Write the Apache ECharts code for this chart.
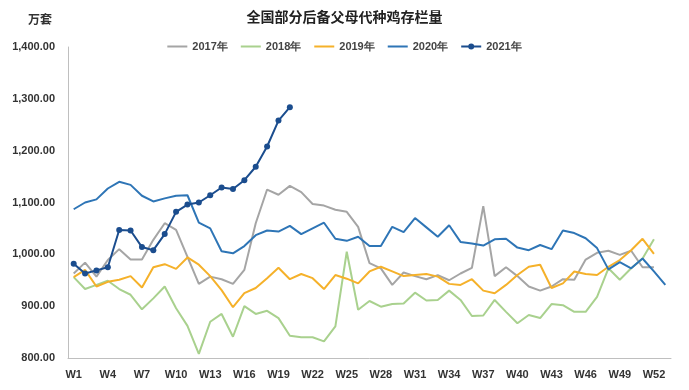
<!DOCTYPE html>
<html><head><meta charset="utf-8">
<script src="https://cdn.jsdelivr.net/npm/echarts@6/dist/echarts.min.js"></script>
<style>html,body{margin:0;padding:0;background:#fff}#c{width:689px;height:390px}</style>
</head><body><div id="c"></div>
<script>
var weeks = [];
for (var w = 1; w <= 53; w++) weeks.push('W' + w);
var s2017 = [963,984,957,989,1010,990,990,1028,1060,1047,995,943,957,952,943,970,1060,1125,1115,1132,1120,1097,1094,1086,1082,1053,983,973,941,965,958,952,960,950,963,974,1093,958,975,958,938,930,938,952,951,990,1003,1007,999,1007,975,975];
var s2018 = [956,933,941,949,933,922,894,915,938,896,862,808,870,885,841,900,885,891,877,843,840,840,832,861,1005,893,910,899,904,905,926,911,912,930,912,881,882,912,889,867,883,877,904,902,889,889,918,973,951,973,992,1029];
var s2019 = [956,970,938,947,951,958,936,975,981,972,994,980,958,931,898,925,935,954,974,952,962,954,933,960,953,944,967,976,967,958,960,962,957,943,941,952,930,925,941,960,976,980,935,944,967,962,960,976,989,1008,1030,1001];
var s2020 = [1087,1100,1106,1127,1140,1134,1113,1102,1108,1113,1114,1061,1050,1006,1002,1016,1037,1046,1044,1055,1039,1050,1061,1030,1026,1034,1016,1016,1053,1043,1070,1052,1034,1056,1024,1021,1017,1029,1030,1013,1008,1018,1010,1046,1041,1031,1012,971,985,973,992,967,941];
var s2021 = [982,963,969,975,1047,1046,1014,1008,1039,1082,1096,1100,1114,1129,1126,1143,1169,1208,1258,1284];
var names = ['2017年','2018年','2019年','2020年','2021年'];
var colors = ['#a5a5a5','#a9d18e','#f5b12a','#2e75b6','#1b4d8e'];
var dataSets = [s2017, s2018, s2019, s2020, s2021];
var yTicks = {min: 800, max: 1400, step: 100};

var font = '"Liberation Sans Narrow","Liberation Sans",Arial,sans-serif';
var lineIcon = 'path://M0,0L0.01,0L0,0.01Z M0,3.1L20,3.1L20,4.9L0,4.9Z M19.99,8L20,8L20,7.99Z';
var dotIcon = 'path://M0,0L0.01,0L0,0.01Z M0,3.1L20,3.1L20,4.9L0,4.9Z M13,4A3,3 0 1,1 7,4A3,3 0 1,1 13,4Z M19.99,8L20,8L20,7.99Z';
var chart = echarts.init(document.getElementById('c'));
var series = names.map(function(n, i){
  var last = i === 4;
  return {
    name: n, type: 'line', data: dataSets[i],
    symbol: last ? 'circle' : 'none', symbolSize: 6, showSymbol: last,
    lineStyle: {width: 2, color: colors[i]},
    itemStyle: {color: colors[i]},
    z: last ? 10 : (i === 3 ? 5 : 2),
    animation: false
  };
});
chart.setOption({
  animation: false,
  title: {text: '全国部分后备父母代种鸡存栏量', left: 'center', top: 5,
    textStyle: {fontSize: 14, fontWeight: 'bold', color: '#222', fontFamily: 'Noto Sans CJK SC'}},
  graphic: [{type: 'text', left: 28, top: 13, style: {text: '万套', font: 'bold 12px "Noto Sans CJK SC"', fill: '#333'}}],
  legend: {top: 36, left: 'center', itemWidth: 20, itemHeight: 8, itemGap: 13,
    textStyle: {fontSize: 11, fontWeight: 'bold', color: '#444', fontFamily: font},
    data: names.map(function(n, i){ return {name: n, icon: i === 4 ? dotIcon : lineIcon, itemStyle: {color: colors[i]}}; })},
  grid: {left: 68, right: 18, top: 47, bottom: 32},
  xAxis: {type: 'category', data: weeks, boundaryGap: true,
    axisLine: {lineStyle: {color: '#bfbfbf', width: 1}},
    axisTick: {show: false},
    axisLabel: {interval: 2, color: '#333', fontSize: 11, fontWeight: 'bold', fontFamily: font, margin: 11}},
  yAxis: {type: 'value', min: yTicks.min, max: yTicks.max, interval: yTicks.step,
    axisLine: {show: true, lineStyle: {color: '#bfbfbf', width: 1}},
    axisTick: {show: false}, splitLine: {show: false},
    axisLabel: {color: '#333', fontSize: 11, fontWeight: 'bold', fontFamily: font, margin: 13,
      formatter: function(v){ return v.toLocaleString('en-US', {minimumFractionDigits: 2, maximumFractionDigits: 2}); }}},
  series: series
});
</script></body></html>
